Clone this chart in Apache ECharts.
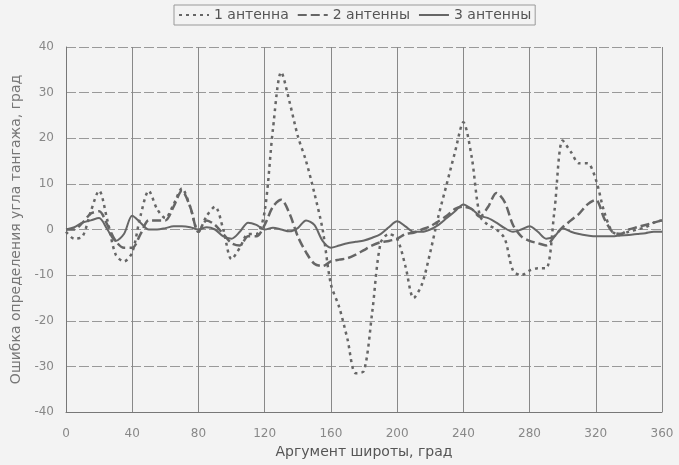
<!DOCTYPE html>
<html>
<head>
<meta charset="utf-8">
<script src="https://cdn.jsdelivr.net/npm/echarts@6/dist/echarts.min.js"></script>
<style>
  html, body { margin: 0; padding: 0; background: #f3f3f3; }
  #chart { width: 679px; height: 465px; }
</style>
</head>
<body>
<div id="chart"></div>
<script>
// аргумент широты, град
const angles = [0, 5, 10, 15, 20, 25, 30, 35, 40, 45, 50, 55, 60, 65, 70, 75, 80, 85, 90, 95,
  100, 105, 110, 115, 120, 125, 130, 135, 140, 145, 150, 155, 160, 165, 170, 175, 180, 185, 190, 195,
  200, 205, 210, 215, 220, 225, 230, 235, 240, 245, 250, 255, 260, 265, 270, 275, 280, 285, 290, 295,
  300, 305, 310, 315, 320, 325, 330, 335, 340, 345, 350, 355, 360];

const oneAntenna = [-0.5, -2, -1.5, 4, 8.5, 2, -5.5, -7, -5, 3, 8.5, 4.5, 2.5, 5.5, 9, 5, -0.5, 3, 5, 0,
  -6.5, -4, -1, -1, 4, 22, 34.5, 28, 20.5, 15, 8, 0, -12, -17, -24, -31.5, -31, -18, -3, -1,
  -2, -8, -15, -12, -5, 3, 10, 17, 23.5, 16, 3, 1, 0, -2, -9, -10, -9, -8.5, -8.5, 4,
  19.5, 17, 14.5, 14.5, 11, 4, -0.5, -1, -0.5, 0, 0.5, 1.5, 2];

const twoAntennas = [0, 0, 1.5, 3.5, 4, 1, -2.5, -4, -4, -1, 2, 2, 2, 5, 8.5, 5, -0.5, 2, 1, -1,
  -3, -3.5, -1.5, -1.5, 1, 5, 6.5, 3.5, -1.5, -5, -7.5, -8, -7, -6.6, -6.3, -5.5, -4.5, -3.5, -2.8, -2.5,
  -2, -1, -0.7, 0, 0.7, 1.8, 3, 4.5, 5, 4.5, 2.8, 5, 8, 6, 1, -1.5, -2.5, -3, -3.5, -1.5,
  0.5, 2, 3.5, 5.5, 6.5, 2.5, -0.5, -1, 0, 0.5, 1, 1.5, 2];

const threeAntennas = [0, 0.5, 1.5, 2, 2.5, 0, -2.5, -1, 3, 1.5, 0, 0, 0.3, 0.7, 0.7, 0.5, 0, 0.5, 0, -1.5,
  -2, -0.5, 1.5, 1, 0, 0.4, 0, -0.4, 0.3, 2, 1, -2.5, -4, -3.5, -3, -2.7, -2.4, -1.8, -1, 0.5,
  1.8, 0.7, -0.5, -0.5, 0, 1, 2.5, 4, 5.5, 4.5, 3, 2.5, 1.5, 0.3, -0.5, 0, 0.7, -0.5, -2, -1.5,
  0.3, -0.5, -1, -1.3, -1.5, -1.5, -1.5, -1.3, -1.2, -1, -0.8, -0.5, -0.5];

const seriesNames = ['1 антенна', '2 антенны', '3 антенны'];

const pairs = values => angles.map((a, i) => [a, values[i]]);

const lineColor = '#666';
const font = 'DejaVu Sans, Liberation Sans, sans-serif';

const option = {
  backgroundColor: '#f3f3f3',
  animation: false,
  textStyle: { fontFamily: font },
  legend: {
    data: seriesNames,
    left: 174,
    top: 5,
    padding: [3, 4, 3, 4],
    itemGap: 8,
    itemWidth: 30,
    itemHeight: 10,
    borderColor: '#999',
    borderWidth: 1,
    itemStyle: { color: 'transparent', borderWidth: 0, opacity: 0 },
    textStyle: { color: '#555', fontSize: 14, fontFamily: font }
  },
  grid: {
    left: 66,
    right: 17,
    top: 47,
    bottom: 53
  },
  xAxis: {
    type: 'value',
    min: 0,
    max: 360,
    interval: 40,
    name: 'Аргумент широты, град',
    nameLocation: 'middle',
    nameGap: 32,
    nameTextStyle: { color: '#555', fontSize: 14 },
    axisLine: { onZero: false, lineStyle: { color: '#777', width: 1 } },
    axisTick: { show: false },
    axisLabel: { color: '#888', fontSize: 12, margin: 16 },
    splitLine: { show: true, lineStyle: { color: '#888', width: 1 } }
  },
  yAxis: {
    type: 'value',
    min: -40,
    max: 40,
    interval: 10,
    name: 'Ошибка определения угла тангажа, град',
    nameLocation: 'middle',
    nameGap: 42,
    nameTextStyle: { color: '#777', fontSize: 14 },
    axisLine: { show: true, lineStyle: { color: '#777', width: 1 } },
    axisTick: { show: false },
    axisLabel: { color: '#888', fontSize: 12, margin: 12 },
    splitLine: { show: true, lineStyle: { color: '#999', width: 1, type: [10, 3] } }
  },
  series: [
    {
      name: seriesNames[0],
      type: 'line',
      data: pairs(oneAntenna),
      smooth: 0.3,
      symbol: 'none',
      itemStyle: { color: lineColor },
      lineStyle: { color: lineColor, width: 2.5, type: [3, 4] }
    },
    {
      name: seriesNames[1],
      type: 'line',
      data: pairs(twoAntennas),
      smooth: 0.3,
      symbol: 'none',
      itemStyle: { color: lineColor },
      lineStyle: { color: lineColor, width: 2.5, type: [9, 4] }
    },
    {
      name: seriesNames[2],
      type: 'line',
      data: pairs(threeAntennas),
      smooth: 0.3,
      symbol: 'none',
      itemStyle: { color: lineColor },
      lineStyle: { color: lineColor, width: 2 }
    }
  ]
};

const mCharts = echarts.init(document.getElementById('chart'));
mCharts.setOption(option);
</script>
</body>
</html>
